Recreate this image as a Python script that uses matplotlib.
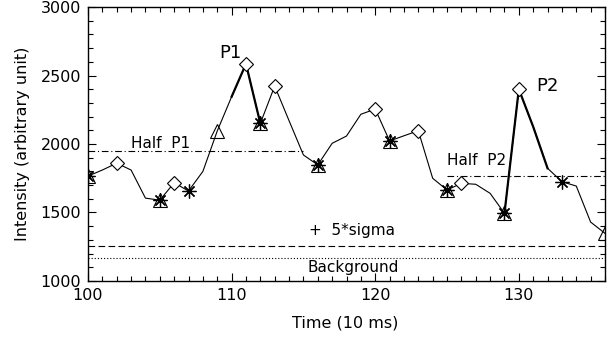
import matplotlib
matplotlib.use("Agg")
import matplotlib.pyplot as plt
import numpy as np

# ---- data ----
time = list(range(100, 137))
intensity = [1766, 1810, 1860, 1810, 1605, 1590, 1717, 1657, 1800, 2095,
             2345, 2585, 2150, 2423, 2170, 1920, 1847, 2005, 2058, 2217,
             2255, 2022, 2060, 2097, 1750, 1664, 1713, 1706, 1640, 1494,
             2400, 2126, 1823, 1725, 1693, 1430, 1348]

asterisk_t = [100, 105, 107, 112, 116, 121, 125, 129, 133]
triangle_t = [100, 105, 109, 112, 116, 121, 125, 129, 136]
diamond_t = [102, 106, 111, 113, 120, 123, 126, 130]

peak1_span = [110, 112]
peak2_span = [129, 132]

half_p1 = 1950
half_p1_range = [100, 115]
half_p2 = 1770
half_p2_range = [125, 136]
five_sigma = 1255
background = 1170

lookup = dict(zip(time, intensity))

plt.rcParams['font.family'] = ['DejaVu Sans']
fig = plt.figure(figsize=(6.12, 3.37), dpi=100)
ax = fig.add_axes([88/612, 1-281/337, 517/612, 274/337])

ax.plot(time, intensity, color='black', lw=0.8, zorder=2)
for span in (peak1_span, peak2_span):
    ts = [t for t in time if span[0] <= t <= span[1]]
    ax.plot(ts, [lookup[t] for t in ts], color='black', lw=1.6, zorder=2)

ax.plot(asterisk_t, [lookup[t] for t in asterisk_t], ls='none',
        marker=(8, 2, 0), ms=10, mec='black', mew=0.9, zorder=3)
ax.plot(triangle_t, [lookup[t] for t in triangle_t], ls='none',
        marker='^', ms=10, mfc='none', mec='black', mew=0.8, zorder=3)
ax.plot(diamond_t, [lookup[t] for t in diamond_t], ls='none',
        marker='D', ms=7, mfc='white', mec='black', mew=0.8, zorder=3)

ax.plot(half_p1_range, [half_p1, half_p1], color='black', lw=0.8,
        ls=(0, (6, 2.5, 1, 2.5)), zorder=1)
ax.plot(half_p2_range, [half_p2, half_p2], color='black', lw=0.8,
        ls=(0, (6, 2.5, 1, 2.5)), zorder=1)
ax.axhline(five_sigma, color='black', lw=0.8, ls=(0, (6, 3)), zorder=1)
ax.axhline(background, color='black', lw=0.8, ls=(0, (1, 1.8)), zorder=1)

fs = 11.5
afs = 11
ax.text(109.9, 2664, 'P1', fontsize=13, ha='center', va='center')
ax.text(131.2, 2427, 'P2', fontsize=13, ha='left', va='center')
ax.text(103.0, 2000, 'Half  P1', fontsize=afs, ha='left', va='center')
ax.text(125.0, 1877, 'Half  P2', fontsize=afs, ha='left', va='center')
ax.text(115.4, 1365, '+  5*sigma', fontsize=afs, ha='left', va='center')
ax.text(118.45, 1096, 'Background', fontsize=afs, ha='center', va='center')

ax.set_xlim(100, 136)
ax.set_ylim(1000, 3000)
ax.set_xticks([100, 110, 120, 130])
ax.set_xticks(np.arange(100, 137, 1), minor=True)
ax.set_yticks([1000, 1500, 2000, 2500, 3000])
ax.set_yticks(np.arange(1000, 3001, 100), minor=True)
ax.tick_params(which='both', direction='in', top=True, right=True,
               labelsize=fs, pad=5, width=0.8)
ax.tick_params(which='major', length=6)
ax.tick_params(which='minor', length=3.5)
for s in ax.spines.values():
    s.set_linewidth(1.0)

ax.set_xlabel('Time (10 ms)', fontsize=fs)
ax.set_ylabel('Intensity (arbitrary unit)', fontsize=fs)
ax.xaxis.set_label_coords(257/517, -35/274)
ax.yaxis.set_label_coords(-58/517, 0.5)

fig.savefig('out.png', dpi=100)
